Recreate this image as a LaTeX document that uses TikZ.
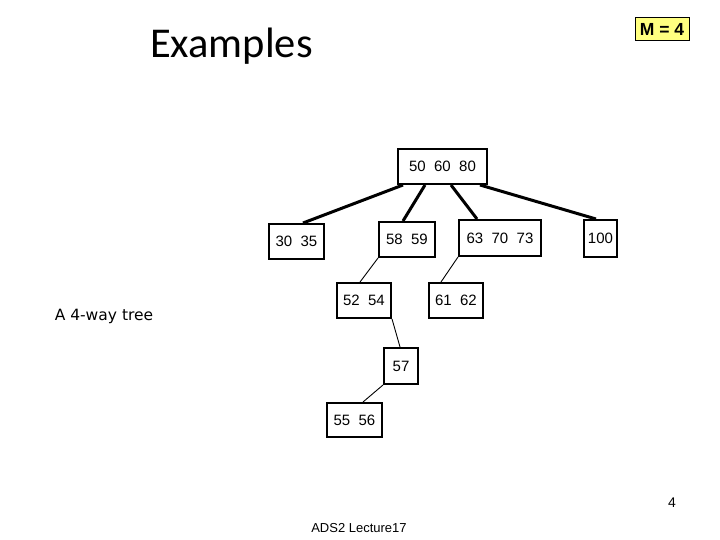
\documentclass[tikz,border=0pt]{standalone}
\usepackage{fontspec}
\setmainfont{Liberation Sans}
\newfontfamily\titlefont{Carlito}
\newfontfamily\notefont{DejaVu Sans}
\usetikzlibrary{calc}
\definecolor{notebg}{HTML}{FFFF80}
\tikzset{
  keybox/.style={draw, line width=2bp, inner sep=0pt, font=\fontsize{15bp}{18bp}\selectfont},
  thickedge/.style={line width=3bp},
  thinedge/.style={line width=0.9bp},
}
\begin{document}
\begin{tikzpicture}[x=1bp,y=-1bp]
\useasboundingbox (0,0) rectangle (720,540);
% title
\node[font=\titlefont\fontsize{42.5bp}{48bp}\selectfont, anchor=base, inner sep=0pt] (title) at (231.5,58) {Examples};
% M = 4
\node[draw, fill=notebg, line width=1bp, minimum width=54bp, minimum height=23bp, inner sep=0pt,
      font=\bfseries\fontsize{17.5bp}{20bp}\selectfont] (mbox) at (662,29.5) {M = 4};
% nodes
\node[keybox, minimum width=89bp, minimum height=35bp] (root) at (442.5,166.5) {50~~60~~80};
\node[keybox, minimum width=55bp, minimum height=35bp] (a) at (296.5,241.5) {30~~35};
\node[keybox, minimum width=56bp, minimum height=35bp] (b) at (407,239.5) {58~~59};
\node[keybox, minimum width=82bp, minimum height=36bp] (c) at (500,238) {63~~70~~73};
\node[keybox, minimum width=33bp, minimum height=37bp] (d) at (600.5,238.5) {100};
\node[keybox, minimum width=54bp, minimum height=35bp] (e) at (364,300.5) {52~~54};
\node[keybox, minimum width=54bp, minimum height=35bp] (f) at (456,300.5) {61~~62};
\node[keybox, minimum width=34bp, minimum height=36bp] (g) at (401,366) {57};
\node[keybox, minimum width=55bp, minimum height=34bp] (h) at (354.5,420) {55~~56};
% root edges
\draw[thickedge] ($(root.south west)+(6,0)$) -- ($(a.north west)+(35,0)$);
\draw[thickedge] ($(root.south west)+(28,0)$) -- ($(b.north west)+(25,0)$);
\draw[thickedge] ($(root.south west)+(54,0)$) -- ($(c.north west)+(19,0)$);
\draw[thickedge] ($(root.south west)+(83,0)$) -- ($(d.north west)+(13,0)$);
% thin edges
\draw[thinedge] (b.south west) -- ($(e.north west)+(24,0)$);
\draw[thinedge] (c.south west) -- ($(f.north west)+(13,0)$);
\draw[thinedge] (e.south east) -- ($(g.north west)+(17,0)$);
\draw[thinedge] (g.south west) -- ($(h.north west)+(37,0)$);
% labels
\node[font=\notefont\fontsize{15.5bp}{19bp}\selectfont, inner sep=0pt] (note) at (104,316) {A 4-way tree};
\node[font=\fontsize{13bp}{16bp}\selectfont, anchor=base, inner sep=0pt] (footer) at (359,532) {ADS2 Lecture17};
\node[font=\fontsize{14bp}{16bp}\selectfont, inner sep=0pt] (page) at (672,503) {4};
\end{tikzpicture}
\end{document}
